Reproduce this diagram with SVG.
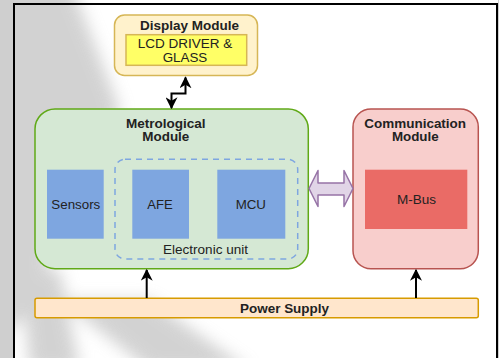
<svg xmlns="http://www.w3.org/2000/svg" width="499" height="358" viewBox="0 0 499 358">
<style>
text{font-family:"Liberation Sans",Arial,sans-serif;fill:#222}
.b{font-weight:bold;font-size:12px}
.n{font-size:12px}
.blue{fill:#7ea6e0}
.conn{stroke:#000;stroke-width:2;fill:none}
</style>
<defs>
<marker id="ah" viewBox="0 0 10 10" refX="9" refY="5" markerWidth="6" markerHeight="6" orient="auto-start-reverse" markerUnits="strokeWidth">
<path d="M0,0 L10,5 L0,10 L3,5 Z" fill="#000"/>
</marker>
<filter id="blur" x="-50%" y="-50%" width="200%" height="200%"><feGaussianBlur stdDeviation="8"/></filter>
</defs>
<rect width="499" height="358" fill="#fff"/>
<g id="watermark" filter="url(#blur)" fill="#c8c8c8" opacity="0.8">
<polygon points="-20,-20 70,-20 120,110 60,200 40,300 -20,358"/>
<polygon points="60,300 150,300 250,370 150,370"/>
<polygon points="20,270 60,270 80,370 30,370"/>
</g>
<rect x="0" y="0" width="14" height="358" fill="#cfcfcf"/>
<path d="M14,358 V4 H497 V358" fill="none" stroke="#000" stroke-width="2"/>
<rect x="498" y="0" width="1" height="358" fill="#cfcfcf"/>

<g id="display">
<rect x="114.5" y="15" width="143" height="60.5" rx="10" fill="#fff2cc" stroke="#d6b656" stroke-width="1.5"/>
<text class="b" x="189.5" y="29.5" text-anchor="middle" textLength="99" lengthAdjust="spacingAndGlyphs">Display Module</text>
</g>
<g id="lcd">
<rect x="126" y="34.7" width="120.7" height="30.6" fill="#ffff66" stroke="#d6b656" stroke-width="1.5"/>
<text class="n" x="185" y="48.3" text-anchor="middle" textLength="94.6" lengthAdjust="spacingAndGlyphs">LCD DRIVER &amp;</text>
<text class="n" x="185" y="62.3" text-anchor="middle" textLength="44.6" lengthAdjust="spacingAndGlyphs">GLASS</text>
</g>

<g id="metrological">
<rect x="35" y="109" width="273.3" height="159.7" rx="20" fill="#d5e8d4" stroke="#60a917" stroke-width="1.5"/>
<text class="b" x="165.8" y="127.7" text-anchor="middle" textLength="79.7" lengthAdjust="spacingAndGlyphs">Metrological</text>
<text class="b" x="165.8" y="141.3" text-anchor="middle" textLength="47" lengthAdjust="spacingAndGlyphs">Module</text>
</g>
<g id="electronic-unit">
<rect x="115" y="159.3" width="182.7" height="99.7" rx="10" fill="none" stroke="#7ea6e0" stroke-width="1.5" stroke-dasharray="6,5"/>
<text class="n" x="205.5" y="254" text-anchor="middle" textLength="85" lengthAdjust="spacingAndGlyphs">Electronic unit</text>
</g>
<g id="sensors">
<rect class="blue" x="47" y="169.7" width="56.7" height="69"/>
<text class="n" x="75.8" y="209" text-anchor="middle" textLength="49" lengthAdjust="spacingAndGlyphs">Sensors</text>
</g>
<g id="afe">
<rect class="blue" x="132.3" y="169.7" width="56.7" height="69"/>
<text class="n" x="160" y="209" text-anchor="middle" textLength="25.4" lengthAdjust="spacingAndGlyphs">AFE</text>
</g>
<g id="mcu">
<rect class="blue" x="217.3" y="169.7" width="68" height="69"/>
<text class="n" x="250.8" y="209" text-anchor="middle" textLength="30.3" lengthAdjust="spacingAndGlyphs">MCU</text>
</g>

<g id="communication">
<rect x="353" y="109" width="125.3" height="159.7" rx="18" fill="#f8cecc" stroke="#b85450" stroke-width="1.5"/>
<text class="b" x="415.2" y="127.7" text-anchor="middle" textLength="101.7" lengthAdjust="spacingAndGlyphs">Communication</text>
<text class="b" x="415.3" y="141.3" text-anchor="middle" textLength="46.7" lengthAdjust="spacingAndGlyphs">Module</text>
</g>
<g id="mbus">
<rect x="365" y="169.7" width="102.3" height="59.3" fill="#ea6b66"/>
<text class="n" x="416.5" y="204" text-anchor="middle" textLength="39" lengthAdjust="spacingAndGlyphs">M-Bus</text>
</g>

<g id="power">
<rect x="35" y="298.3" width="443.3" height="19.4" rx="2" fill="#ffe6cc" stroke="#d79b00" stroke-width="1.5"/>
<text class="b" x="284.5" y="313.3" text-anchor="middle" textLength="89" lengthAdjust="spacingAndGlyphs">Power Supply</text>
</g>

<g id="connectors">
<path class="conn" d="M185.5,77.5 V93.5 H171.5 V108" marker-start="url(#ah)" marker-end="url(#ah)"/>
<path class="conn" d="M146.7,298 V270" marker-end="url(#ah)"/>
<path class="conn" d="M416,298 V270" marker-end="url(#ah)"/>
<path d="M309,188.5 L318,170.5 L318,183 L344,183 L344,170.5 L353,188.5 L344,206.5 L344,195 L318,195 L318,206.5 Z" fill="#e1d5e7" stroke="#9673a6" stroke-width="1.5" stroke-linejoin="round"/>
</g>
</svg>
